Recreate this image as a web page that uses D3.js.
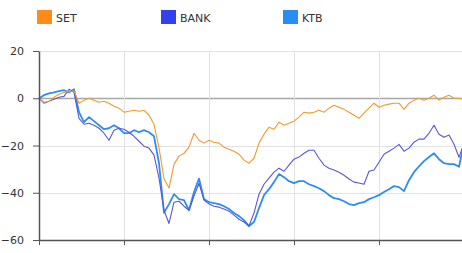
<!DOCTYPE html>
<html>
<head>
<meta charset="utf-8">
<script src="https://cdn.jsdelivr.net/npm/d3@7"></script>
<style>
  body { margin: 0; background: #fff; }
  svg { display: block; font-family: "DejaVu Sans", Verdana, sans-serif; }
</style>
</head>
<body>
<div id="chart"></div>
<script>
// series names and colours
var seriesNames = ["SET", "BANK", "KTB"];
var legendColors = ["#ff8c1a", "#3340ee", "#2b8cf5"];
var lineColors = ["#f39a2c", "#5858d8", "#2f8cf0"];

// y axis tick labels
var yTicks = [20, 0, -20, -40, -60];

// % change, one value per sample across the period
var setValues = [0, -1.7, -1.3, 0.4, 1.7, 2.5, 3.0, 3.0, -2.1, -0.8,
  0, -0.8, -1.7, -1.3, -2.1, -3.4, -4.2, -5.9, -5.5, -5.1,
  -5.5, -5.1, -7.2, -11, -21, -34, -38, -28, -24.5, -23.3,
  -20.7, -14.8, -17.8, -19, -17.8, -18.6, -19, -20.7, -21.6, -22.4,
  -23.7, -26.2, -27.5, -25.4, -19, -15.2, -12.3, -13.1, -10.1, -11.4,
  -10.6, -9.7, -8, -5.9, -6.3, -5.9, -5.1, -5.9, -4.2, -3,
  -3.8, -4.7, -5.9, -7.2, -8.5, -6.3, -4.2, -2.1, -3.8, -3,
  -2.5, -2.1, -2.1, -4.7, -2.1, -0.8, 0, -0.8, 0, 1.3,
  -0.8, 0.4, 1.3, 0, 0, -0.4];

var bankValues = [0, -2.1, -1.3, -0.4, 0.4, 0.8, 3.8, 2.5, -8.5, -11,
  -10.6, -11.4, -12.7, -14.8, -17.8, -13.5, -12.7, -13.1, -14.4, -16.1,
  -18.2, -20.3, -21.1, -24.1, -33.8, -47.4, -53, -44, -43.6, -45.7,
  -47.4, -41.4, -36, -43.1, -44.8, -45.7, -46.1, -46.9, -47.8, -49.5,
  -51.2, -52.4, -54.1, -48.6, -40.6, -36.4, -33.8, -31.3, -29.6, -30.9,
  -28.3, -25.8, -24.9, -23.3, -22, -22, -25.4, -28.3, -29.6, -30.4,
  -31.3, -32.6, -34.2, -35.5, -35.9, -36.4, -30.9, -30.4, -27.1, -23.7,
  -22.4, -21.1, -19.5, -22.4, -21.1, -18.6, -17.3, -17.3, -14.8, -11.4,
  -15.2, -16.5, -15.6, -19.5, -25, -19];

var ktbValues = [0, 1.3, 2.1, 2.5, 3.0, 3.4, 2.5, 3.8, -5.9, -10.1,
  -8, -9.7, -11.4, -13.1, -12.7, -11.4, -12.7, -14.8, -14.8, -13.5,
  -14.4, -13.5, -14.4, -16.1, -27.5, -48.5, -44.8, -40.6, -42.7, -43.1,
  -47.4, -39.7, -34, -42.7, -44, -44.4, -44.8, -45.7, -46.9, -48.6,
  -49.9, -51.6, -54.1, -52.4, -46.5, -41, -38.5, -35.5, -32.1, -33.4,
  -35.1, -35.9, -35.1, -35.1, -36.4, -37.2, -38.1, -39.3, -41, -42.3,
  -42.7, -43.6, -44.8, -45.2, -44.4, -44, -42.7, -41.9, -41, -39.7,
  -38.5, -37.2, -37.6, -39.3, -34.7, -31.3, -28.8, -26.6, -24.9, -23.3,
  -25.8, -27.5, -27.9, -27.9, -29, -19];

var allSeries = [setValues, bankValues, ktbValues];

var W = 462, H = 253;
var margin = {top: 51, left: 39, bottom: 13};

var svg = d3.select("#chart").append("svg")
  .attr("width", W)
  .attr("height", H);

var x = d3.scaleLinear()
  .domain([0, 85])
  .range([margin.left, margin.left + 425]);

var y = d3.scaleLinear()
  .domain([-60, 20])
  .range([H - margin.bottom, margin.top]);

// horizontal grid
svg.append("g")
  .selectAll("line")
  .data(yTicks)
  .enter().append("line")
  .attr("x1", margin.left)
  .attr("x2", W)
  .attr("y1", function(d) { return Math.round(y(d)) + 0.5; })
  .attr("y2", function(d) { return Math.round(y(d)) + 0.5; })
  .style("stroke", function(d) { return d === 0 ? "#a8a8a8" : "#e2e2e2"; })
  .style("stroke-width", function(d) { return d === 0 ? 1.5 : 1; });

// vertical grid
var xGrid = [17, 34, 51, 68];
svg.append("g")
  .selectAll("line")
  .data(xGrid)
  .enter().append("line")
  .attr("x1", function(d) { return Math.round(x(d)) + 0.5; })
  .attr("x2", function(d) { return Math.round(x(d)) + 0.5; })
  .attr("y1", margin.top)
  .attr("y2", y(-60))
  .style("stroke", "#e2e2e2");

// lines, KTB underneath
var line = d3.line()
  .x(function(d, i) { return x(i); })
  .y(function(d) { return y(d); });

var order = [2, 1, 0];
var widths = [1.1, 1.1, 1.8];
order.forEach(function(k) {
  svg.append("path")
    .datum(allSeries[k])
    .attr("d", line)
    .style("fill", "none")
    .style("stroke", lineColors[k])
    .style("stroke-width", widths[k])
    .style("stroke-linejoin", "round");
});

// y axis
var yAxis = svg.append("g")
  .attr("transform", "translate(" + margin.left + ",0)")
  .call(d3.axisLeft(y).tickValues(yTicks).tickSize(6).tickPadding(9).tickSizeOuter(0));
yAxis.select(".domain").style("stroke", "#555").style("stroke-width", 1.5);
yAxis.selectAll(".tick line").style("stroke", "#555");
yAxis.selectAll("text")
  .style("font-size", "11px")
  .style("fill", "#333")
  .style("font-family", "DejaVu Sans, Verdana, sans-serif");

// x axis (no labels)
var xAxis = svg.append("g")
  .attr("transform", "translate(0," + y(-60) + ")")
  .call(d3.axisBottom(x).tickValues([0].concat(xGrid)).tickSize(5).tickFormat("").tickSizeOuter(0));
xAxis.select(".domain").style("stroke", "#555").style("stroke-width", 1.5);
xAxis.selectAll(".tick line").style("stroke", "#555");

// legend
var legendX = [37, 161, 283];
var legend = svg.append("g");
seriesNames.forEach(function(name, i) {
  legend.append("rect")
    .attr("x", legendX[i])
    .attr("y", 10)
    .attr("width", 15)
    .attr("height", 14)
    .style("fill", legendColors[i]);
  legend.append("text")
    .attr("x", legendX[i] + 19)
    .attr("y", 21.5)
    .style("font-size", "11px")
    .style("fill", "#333")
    .text(name);
});
</script>
</body>
</html>
